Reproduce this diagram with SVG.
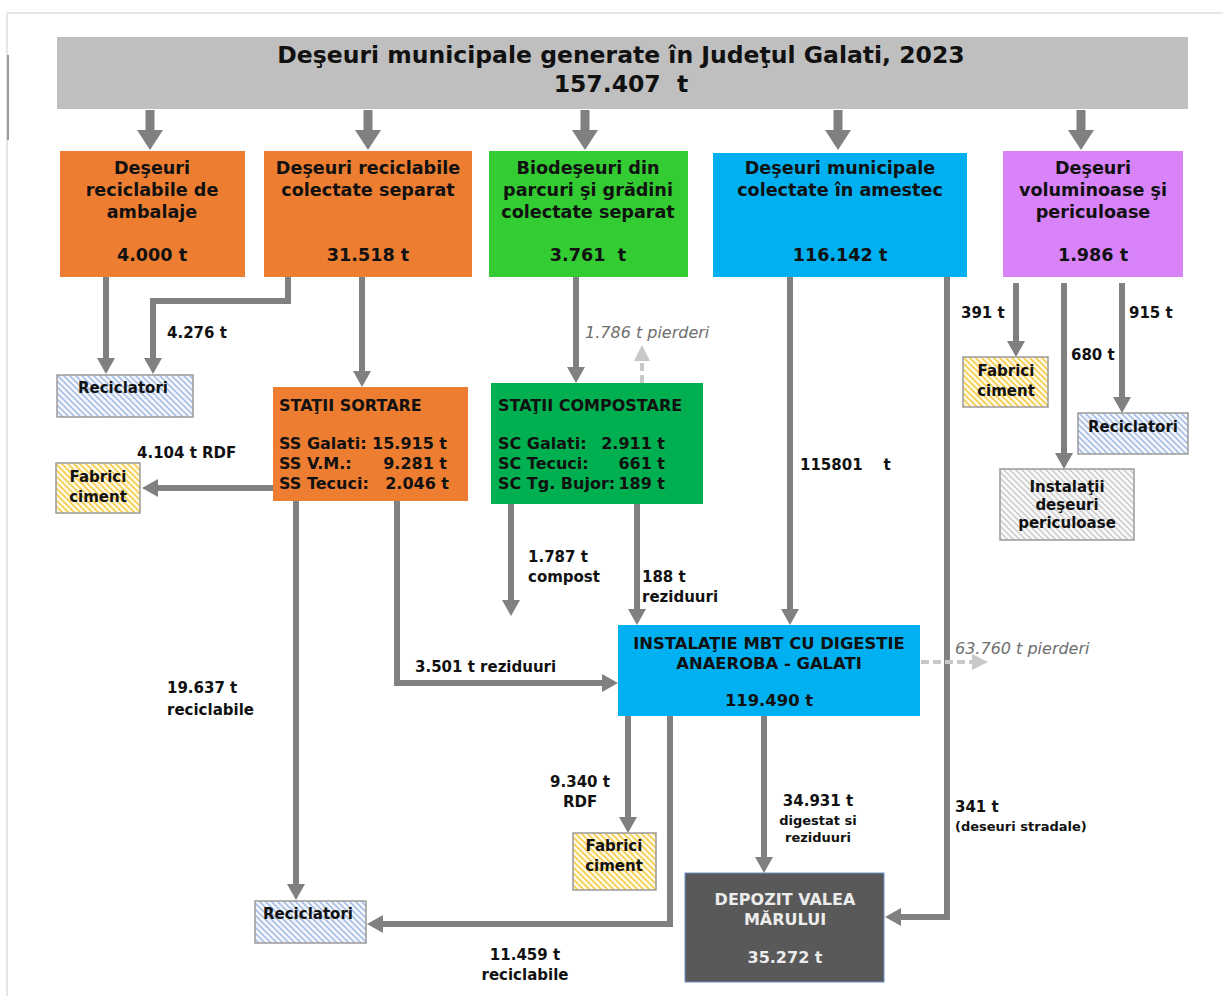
<svg xmlns="http://www.w3.org/2000/svg" width="1223" height="996" viewBox="0 0 1223 996">
<style>
text{font-family:"DejaVu Sans","Liberation Sans",sans-serif;font-weight:bold;fill:#111;white-space:pre}
.t17{font-size:17.6px}
.t16{font-size:16px}
.t15{font-size:15px}
.t13{font-size:13px}
.c{text-anchor:middle}
.e{text-anchor:end}
.it{font-style:italic;font-weight:normal;fill:#6e6e6e;font-size:16px}
.w{fill:#ececec}
.con{fill:none;stroke:#808080;stroke-width:6;stroke-linejoin:miter}
.top{fill:none;stroke:#808080;stroke-width:9}
.dash{fill:none;stroke:#c8c8c8;stroke-width:4;stroke-dasharray:8 4}
.hb{stroke:#9a9a9a;stroke-width:1.5}
</style>
<defs>
<marker id="ah" markerUnits="userSpaceOnUse" markerWidth="16" markerHeight="18" refX="0" refY="9" orient="auto"><path d="M0,0 L16,9 L0,18 z" fill="#808080"/></marker>
<marker id="ahT" markerUnits="userSpaceOnUse" markerWidth="20" markerHeight="26" refX="0" refY="13" orient="auto"><path d="M0,0 L20,13 L0,26 z" fill="#808080"/></marker>
<marker id="ahL" markerUnits="userSpaceOnUse" markerWidth="16" markerHeight="16" refX="0" refY="8" orient="auto"><path d="M0,0 L16,8 L0,16 z" fill="#c8c8c8"/></marker>
<pattern id="pBlue" patternUnits="userSpaceOnUse" width="6" height="6"><rect width="6" height="6" fill="#f6f8fc"/><path d="M0,0 L6,6 M-1,5 L1,7 M5,-1 L7,1" stroke="#a9c0e6" stroke-width="1.6"/></pattern>
<pattern id="pYel" patternUnits="userSpaceOnUse" width="6" height="6"><rect width="6" height="6" fill="#fffbe8"/><path d="M0,0 L6,6 M-1,5 L1,7 M5,-1 L7,1" stroke="#f7cb4d" stroke-width="1.6"/></pattern>
<pattern id="pGray" patternUnits="userSpaceOnUse" width="6" height="6"><rect width="6" height="6" fill="#fafafa"/><path d="M0,0 L6,6 M-1,5 L1,7 M5,-1 L7,1" stroke="#cfcfcf" stroke-width="1.6"/></pattern>
</defs>

<g id="frame">
<path d="M7,13 H1223 M7,13 V996" fill="none" stroke="#e6e6e6" stroke-width="2"/>
<path d="M8,55 V140" stroke="#9a9a9a" stroke-width="2"/>
</g>

<g id="connectors">
<path class="top" d="M150,110 V130" marker-end="url(#ahT)"/>
<path class="top" d="M368,110 V130" marker-end="url(#ahT)"/>
<path class="top" d="M585,110 V130" marker-end="url(#ahT)"/>
<path class="top" d="M838,110 V130" marker-end="url(#ahT)"/>
<path class="top" d="M1081,110 V130" marker-end="url(#ahT)"/>
<path class="con" d="M106,277 V358" marker-end="url(#ah)"/>
<path class="con" d="M288,277 V301 H153 V358" marker-end="url(#ah)"/>
<path class="con" d="M362,277 V371" marker-end="url(#ah)"/>
<path class="con" d="M576,277 V367" marker-end="url(#ah)"/>
<path class="dash" d="M642,383 V361" marker-end="url(#ahL)"/>
<path class="con" d="M790,277 V609" marker-end="url(#ah)"/>
<path class="con" d="M947,277 V917 H901" marker-end="url(#ah)"/>
<path class="con" d="M1016,283 V341" marker-end="url(#ah)"/>
<path class="con" d="M1064,283 V453" marker-end="url(#ah)"/>
<path class="con" d="M1122,283 V397" marker-end="url(#ah)"/>
<path class="con" d="M273,488 H158" marker-end="url(#ah)"/>
<path class="con" d="M296,501 V884" marker-end="url(#ah)"/>
<path class="con" d="M397,501 V683 H602" marker-end="url(#ah)"/>
<path class="con" d="M511,504 V600" marker-end="url(#ah)"/>
<path class="con" d="M637,504 V609" marker-end="url(#ah)"/>
<path class="dash" d="M921,662 H972" marker-end="url(#ahL)"/>
<path class="con" d="M628,716 V817" marker-end="url(#ah)"/>
<path class="con" d="M670,716 V924 H383" marker-end="url(#ah)"/>
<path class="con" d="M764,716 V857" marker-end="url(#ah)"/>
</g>

<g id="labels">
<text class="t15" x="167" y="338">4.276 t</text>
<text class="it" x="585" y="338">1.786 t pierderi</text>
<text class="t15" x="137" y="458">4.104 t RDF</text>
<text class="t15" x="800" y="470" xml:space="preserve">115801    t</text>
<text class="t15" x="961" y="318">391 t</text>
<text class="t15" x="1071" y="360">680 t</text>
<text class="t15" x="1129" y="318">915 t</text>
<text class="t15" x="528" y="562">1.787 t</text>
<text class="t15" x="528" y="582">compost</text>
<text class="t15" x="642" y="582">188 t</text>
<text class="t15" x="642" y="602">reziduuri</text>
<text class="t15" x="415" y="672">3.501 t reziduuri</text>
<text class="it" x="955" y="654">63.760 t pierderi</text>
<text class="t15" x="167" y="693">19.637 t</text>
<text class="t15" x="167" y="715">reciclabile</text>
<text class="t15 c" x="580" y="787">9.340 t</text>
<text class="t15 c" x="580" y="807">RDF</text>
<text class="t15 c" x="818" y="806">34.931 t</text>
<text class="t13 c" x="818" y="825">digestat si</text>
<text class="t13 c" x="818" y="842">reziduuri</text>
<text class="t15" x="955" y="812">341 t</text>
<text class="t13" x="955" y="831">(deseuri stradale)</text>
<text class="t15 c" x="525" y="960">11.459 t</text>
<text class="t15 c" x="525" y="980">reciclabile</text>
</g>

<g id="n-total">
<rect x="57" y="37" width="1131" height="72" fill="#bfbfbf"/>
<text class="c" x="621" y="63" font-size="23.5">Deşeuri municipale generate în Judeţul Galati, 2023</text>
<text class="c" x="621" y="92" font-size="23.5" xml:space="preserve">157.407  t</text>
</g>

<g id="n-ambalaje">
<rect x="60" y="151" width="185" height="126" fill="#ed7d31"/>
<text class="t17 c" x="152" y="174">Deşeuri</text>
<text class="t17 c" x="152" y="196">reciclabile de</text>
<text class="t17 c" x="152" y="218">ambalaje</text>
<text class="t17 c" x="152" y="261">4.000 t</text>
</g>

<g id="n-reciclabile">
<rect x="264" y="151" width="208" height="126" fill="#ed7d31"/>
<text class="t17 c" x="368" y="174">Deşeuri reciclabile</text>
<text class="t17 c" x="368" y="196">colectate separat</text>
<text class="t17 c" x="368" y="261">31.518 t</text>
</g>

<g id="n-biodeseuri">
<rect x="489" y="151" width="199" height="126" fill="#33cc33"/>
<text class="t17 c" x="588" y="174">Biodeşeuri din</text>
<text class="t17 c" x="588" y="196">parcuri şi grădini</text>
<text class="t17 c" x="588" y="218">colectate separat</text>
<text class="t17 c" x="588" y="261" xml:space="preserve">3.761  t</text>
</g>

<g id="n-amestec">
<rect x="713" y="153" width="254" height="124" fill="#00b0f0"/>
<text class="t17 c" x="840" y="174">Deşeuri municipale</text>
<text class="t17 c" x="840" y="196">colectate în amestec</text>
<text class="t17 c" x="840" y="261">116.142 t</text>
</g>

<g id="n-voluminoase">
<rect x="1003" y="151" width="180" height="126" fill="#d883f7"/>
<text class="t17 c" x="1093" y="174">Deşeuri</text>
<text class="t17 c" x="1093" y="196">voluminoase şi</text>
<text class="t17 c" x="1093" y="218">periculoase</text>
<text class="t17 c" x="1093" y="261">1.986 t</text>
</g>

<g id="n-reciclatori1">
<rect class="hb" x="57" y="375" width="136" height="42" fill="url(#pBlue)"/>
<text class="t15" x="78" y="393">Reciclatori</text>
</g>

<g id="n-fabrici1">
<rect class="hb" x="56" y="463" width="84" height="50" fill="url(#pYel)"/>
<text class="t15 c" x="98" y="482">Fabrici</text>
<text class="t15 c" x="98" y="502">ciment</text>
</g>

<g id="n-sortare">
<rect x="273" y="387" width="195" height="114" fill="#ed7d31"/>
<text class="t16" x="279" y="411">STAŢII SORTARE</text>
<text class="t16" x="279" y="449">SS Galati:</text>
<text class="t16 e" x="447" y="449">15.915 t</text>
<text class="t16" x="279" y="469">SS V.M.:</text>
<text class="t16 e" x="447" y="469">9.281 t</text>
<text class="t16" x="279" y="489">SS Tecuci:</text>
<text class="t16 e" x="449" y="489">2.046 t</text>
</g>

<g id="n-compostare">
<rect x="491" y="383" width="212" height="121" fill="#00b050"/>
<text class="t16" x="498" y="411">STAŢII COMPOSTARE</text>
<text class="t16" x="498" y="449">SC Galati:</text>
<text class="t16 e" x="665" y="449">2.911 t</text>
<text class="t16" x="498" y="469">SC Tecuci:</text>
<text class="t16 e" x="665" y="469">661 t</text>
<text class="t16" x="498" y="489">SC Tg. Bujor:</text>
<text class="t16 e" x="665" y="489">189 t</text>
</g>

<g id="n-fabrici2">
<rect class="hb" x="963" y="357" width="85" height="50" fill="url(#pYel)"/>
<text class="t15 c" x="1006" y="376">Fabrici</text>
<text class="t15 c" x="1006" y="396">ciment</text>
</g>

<g id="n-reciclatori3">
<rect class="hb" x="1078" y="413" width="110" height="41" fill="url(#pBlue)"/>
<text class="t15 c" x="1133" y="432">Reciclatori</text>
</g>

<g id="n-periculoase">
<rect class="hb" x="1000" y="469" width="134" height="71" fill="url(#pGray)"/>
<text class="t15 c" x="1067" y="492">Instalaţii</text>
<text class="t15 c" x="1067" y="510">deşeuri</text>
<text class="t15 c" x="1067" y="528">periculoase</text>
</g>

<g id="n-mbt">
<rect x="618" y="625" width="302" height="91" fill="#00b0f0"/>
<text class="c" x="769" y="649" font-size="16.4">INSTALAŢIE MBT CU DIGESTIE</text>
<text class="c" x="769" y="669" font-size="16.4">ANAEROBA - GALATI</text>
<text class="c" x="769" y="706" font-size="16.4">119.490 t</text>
</g>

<g id="n-fabrici3">
<rect class="hb" x="573" y="833" width="83" height="57" fill="url(#pYel)"/>
<text class="t15 c" x="614" y="851">Fabrici</text>
<text class="t15 c" x="614" y="871">ciment</text>
</g>

<g id="n-reciclatori2">
<rect class="hb" x="255" y="901" width="111" height="42" fill="url(#pBlue)"/>
<text class="t15" x="263" y="919">Reciclatori</text>
</g>

<g id="n-depozit">
<rect x="685" y="873" width="199" height="109" fill="#595959" stroke="#6f8fc8" stroke-width="1"/>
<text class="c w" x="785" y="905" font-size="16">DEPOZIT VALEA</text>
<text class="c w" x="785" y="925" font-size="16">MĂRULUI</text>
<text class="c w" x="785" y="963" font-size="16">35.272 t</text>
</g>
</svg>
